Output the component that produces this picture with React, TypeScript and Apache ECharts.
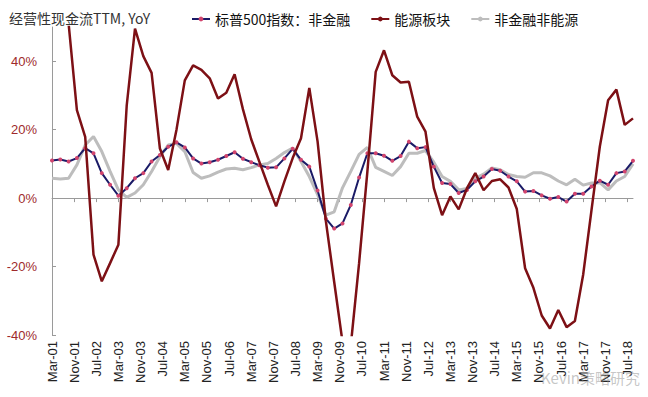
import React, { useEffect, useRef } from 'react';
import * as echarts from 'echarts';

const MONTHS = ['Jan', 'Feb', 'Mar', 'Apr', 'May', 'Jun', 'Jul', 'Aug', 'Sep', 'Oct', 'Nov', 'Dec'];

// Quarterly observation dates, Mar-01 .. Sep-18
const quarterDates: string[] = [];
for (let y = 2001; y <= 2018; y++) {
  for (const m of ['Mar', 'Jun', 'Sep', 'Dec']) {
    if (y === 2018 && m === 'Dec') continue;
    quarterDates.push(`${m}-${String(y % 100).padStart(2, '0')}`);
  }
}

const xTickLabels = [
  'Mar-01', 'Nov-01', 'Jul-02', 'Mar-03', 'Nov-03', 'Jul-04', 'Mar-05', 'Nov-05', 'Jul-06',
  'Mar-07', 'Nov-07', 'Jul-08', 'Mar-09', 'Nov-09', 'Jul-10', 'Mar-11', 'Nov-11', 'Jul-12',
  'Mar-13', 'Nov-13', 'Jul-14', 'Mar-15', 'Nov-15', 'Jul-16', 'Mar-17', 'Nov-17', 'Jul-18',
];

const yTicks = [-40, -20, 0, 20, 40];

const seriesNames = ['标普500指数：非金融', '能源板块', '非金融非能源'];

const spxNonFin = [
  11.0, 11.3, 10.7, 11.7, 14.6, 13.1, 7.3, 3.9, 0.7, 2.9,
  5.8, 7.3, 10.7, 12.6, 15.0, 16.3, 14.8, 11.6, 10.1, 10.5,
  11.2, 12.3, 13.4, 11.5, 10.5, 9.6, 8.9, 9.0, 11.6, 14.4,
  11.2, 9.2, 2.2, -6.0, -8.9, -7.4, -2.0, 6.0, 13.1, 13.1,
  12.4, 10.9, 12.3, 16.5, 14.6, 14.9, 9.2, 4.4, 4.1, 1.5,
  2.4, 4.9, 6.3, 8.5, 8.0, 6.3, 4.9, 1.9, 2.1, 0.8,
  -0.2, 0.3, -1.0, 1.3, 1.3, 3.4, 5.1, 3.9, 7.3, 7.8,
  10.9,
];

const energy = [
  65, 58, 51, 25.7, 17.9, -16.5, -24.3, -19.0, -13.6, 27.0,
  49.5, 41.5, 36.6, 14.5, 8.2, 20.0, 34.4, 38.8, 37.5, 35.0,
  29.1, 30.8, 36.2, 26.0, 17.2, 10.5, 3.9, -2.4, 4.9, 11.7,
  17.5, 32.2, 16.5, -6.8, -24.5, -42.0, -43.0, -19.0, 7.8, 36.9,
  43.2, 35.9, 33.8, 34.0, 23.8, 19.4, 3.0, -5.0, 0.5, -3.3,
  2.9, 7.3, 2.3, 5.0, 5.5, 3.1, -3.2, -20.5, -26.2, -34.3,
  -38.1, -32.7, -37.7, -35.9, -22.3, -3.5, 15.0, 28.6, 31.7, 21.4,
  23.3,
];

const nonFinNonEnergy = [
  5.8, 5.6, 5.8, 9.7, 15.5, 18.0, 13.6, 7.8, 2.4, 0.2,
  1.5, 3.9, 7.8, 12.1, 15.5, 16.0, 13.6, 7.5, 5.8, 6.5,
  7.6, 8.5, 8.7, 8.3, 8.9, 9.7, 10.1, 11.6, 13.3, 14.6,
  10.7, 6.3, 1.0, -5.0, -4.0, 3.0, 7.8, 12.8, 14.8, 9.0,
  7.8, 6.6, 9.2, 13.1, 13.1, 13.9, 10.5, 6.3, 4.9, 2.4,
  2.8, 5.8, 7.0, 8.8, 8.3, 6.9, 6.3, 6.1, 7.4, 7.4,
  6.5, 5.0, 3.9, 5.5, 3.8, 4.4, 4.5, 2.4, 5.0, 6.3,
  10.0,
];

function monthIndex(label: string): number {
  const [m, yy] = label.split('-');
  return (parseInt(yy, 10) - 1) * 12 + MONTHS.indexOf(m) - 2;
}

const tickValues = xTickLabels.map(monthIndex);
const tickLabelMap: Record<number, string> = {};
xTickLabels.forEach((l) => { tickLabelMap[monthIndex(l)] = l; });
const xMax = monthIndex(quarterDates[quarterDates.length - 1]);

function pairs(vals: number[]) {
  return vals.map((v, i) => [monthIndex(quarterDates[i]), v]);
}

export default function App() {
  const ref = useRef<HTMLDivElement>(null);
  useEffect(() => {
    if (!ref.current) return;
    const chart = echarts.init(ref.current, undefined, { renderer: 'svg' });
    const font = 'Liberation Sans, Arial, sans-serif';
    const cjk = '"Noto Sans CJK SC", sans-serif';
    chart.setOption({
      animation: false,
      backgroundColor: '#ffffff',
      title: {
        text: '经营性现金流TTM, YoY',
        left: 4,
        top: 6,
        textStyle: { fontSize: 14, fontWeight: 'normal', color: '#333', fontFamily: cjk },
      },
      legend: {
        left: 186,
        top: 7,
        itemWidth: 18,
        itemHeight: 6,
        itemGap: 20,
        data: seriesNames,
        textStyle: { fontSize: 14, color: '#111', fontFamily: cjk },
      },
      grid: { left: 52, right: 15, top: 27, bottom: 62 },
      xAxis: [
        {
          type: 'value',
          position: 'bottom',
          min: 0,
          max: xMax,
          interval: 8,
          axisLine: { show: false, onZero: false },
          axisTick: { show: false },
          splitLine: { show: false },
          axisLabel: {
            rotate: 90,
            margin: 6,
            fontSize: 13,
            color: '#222',
            fontFamily: font,
            customValues: tickValues,
            formatter: (v: number) => tickLabelMap[v] || '',
          },
        },
        {
          type: 'value',
          position: 'top',
          min: 0,
          max: xMax,
          interval: 8,
          axisLine: { show: true, onZero: true, lineStyle: { color: '#9a9a9a', width: 1 } },
          axisTick: { show: true, inside: true, length: 4, customValues: tickValues, lineStyle: { color: '#9a9a9a' } },
          axisLabel: { show: false },
          splitLine: { show: false },
        },
      ],
      yAxis: {
        type: 'value',
        min: -40,
        max: 50,
        interval: 20,
        axisLine: { show: true, onZero: false, lineStyle: { color: '#9a9a9a', width: 1 } },
        axisTick: { show: true, inside: true, length: 4, customValues: yTicks, lineStyle: { color: '#9a9a9a' } },
        splitLine: { show: false },
        axisLabel: {
          margin: 15,
          fontSize: 13,
          color: '#9E2A2B',
          fontFamily: font,
          customValues: yTicks,
          formatter: (v: number) => (yTicks.indexOf(v) >= 0 ? `${v}%` : ''),
        },
      },
      series: [
        {
          name: seriesNames[0],
          type: 'line',
          data: pairs(spxNonFin),
          z: 3,
          symbol: 'circle',
          symbolSize: 4,
          showSymbol: true,
          lineStyle: { color: '#1a1a66', width: 2 },
          itemStyle: { color: '#d2456e', borderWidth: 0 },
        },
        {
          name: seriesNames[1],
          type: 'line',
          data: pairs(energy),
          z: 4,
          symbol: 'none',
          lineStyle: { color: '#7d1015', width: 2.5 },
          itemStyle: { color: '#7d1015' },
        },
        {
          name: seriesNames[2],
          type: 'line',
          data: pairs(nonFinNonEnergy),
          z: 2,
          symbol: 'none',
          lineStyle: { color: '#bdbdbd', width: 3 },
          itemStyle: { color: '#bdbdbd' },
        },
      ],
      graphic: [
        {
          type: 'text',
          right: 8,
          bottom: 12,
          z: 100,
          style: {
            text: 'Kevin策略研究',
            fontSize: 15,
            fill: 'rgba(150,150,150,0.55)',
            fontFamily: cjk,
          },
        },
      ],
    });
    return () => chart.dispose();
  }, []);
  return (
    <div
      ref={ref}
      style={{ position: 'fixed', left: 0, top: 0, width: 648, height: 397 }}
    />
  );
}
